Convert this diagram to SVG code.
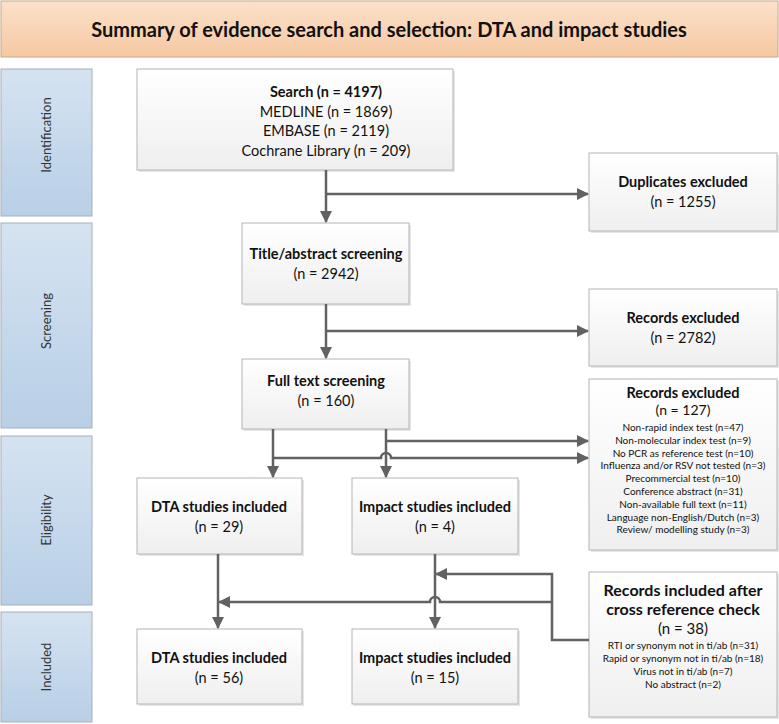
<svg xmlns="http://www.w3.org/2000/svg" width="779" height="724" viewBox="0 0 779 724">
<defs>
<linearGradient id="gTitle" x1="0" y1="0" x2="0" y2="1"><stop offset="0" stop-color="#fbe1ca"/><stop offset="1" stop-color="#f6c8a2"/></linearGradient>
<linearGradient id="gPhase" x1="0" y1="0" x2="0" y2="1"><stop offset="0" stop-color="#d5e3f1"/><stop offset="1" stop-color="#b8cfe6"/></linearGradient>
<linearGradient id="gBox" x1="0" y1="0" x2="0" y2="1"><stop offset="0" stop-color="#ffffff"/><stop offset="1" stop-color="#efefef"/></linearGradient>
<marker id="arr" markerUnits="userSpaceOnUse" markerWidth="12" markerHeight="12" refX="11" refY="6" orient="auto"><path d="M0,0 L12,6 L0,12 z" fill="#626262"/></marker>
</defs>
<style>
.phase{fill:url(#gPhase);stroke:#a8b0b8;stroke-width:1}
.box{fill:url(#gBox);stroke:#b4b4b4;stroke-width:1}
.sh{fill:#e6e6e6}
.t{font-family:Lato,"Liberation Sans",sans-serif;fill:#111;text-anchor:middle}
.b{font-weight:bold}
.m{font-size:14.5px}
.s{font-size:10px}
.p{font-family:Lato,"Liberation Sans",sans-serif;font-size:13px;fill:#333;text-anchor:middle}
.c{fill:none;stroke:#626262;stroke-width:2.5}
</style>
<rect x="0" y="0" width="779" height="724" fill="#ffffff"/>
<g id="title">
<rect x="1" y="1" width="777" height="56" fill="url(#gTitle)" stroke="#c8a888" stroke-width="1"/>
<text class="t b" x="389" y="37" font-size="20">Summary of evidence search and selection: DTA and impact studies</text>
</g>
<g id="phase-identification"><rect class="phase" x="1" y="69" width="91" height="147"/><text class="p" transform="translate(51,135) rotate(-90)">Identification</text></g>
<g id="phase-screening"><rect class="phase" x="1" y="223" width="91" height="205"/><text class="p" transform="translate(51,321) rotate(-90)">Screening</text></g>
<g id="phase-eligibility"><rect class="phase" x="1" y="436" width="91" height="169"/><text class="p" transform="translate(51,520) rotate(-90)">Eligibility</text></g>
<g id="phase-included"><rect class="phase" x="1" y="612" width="91" height="110"/><text class="p" transform="translate(51,667) rotate(-90)">Included</text></g>

<g id="search"><rect class="sh" x="139" y="71" width="316" height="101"/><rect class="box" x="137" y="69" width="316" height="101"/>
<text class="t m" x="326" y="97"><tspan class="b">Search (n = 4197)</tspan><tspan x="326" dy="19.5">MEDLINE (n = 1869)</tspan><tspan x="326" dy="19.5">EMBASE (n = 2119)</tspan><tspan x="326" dy="19.5">Cochrane Library (n = 209)</tspan></text></g>
<g id="duplicates"><rect class="sh" x="591" y="155" width="188" height="78"/><rect class="box" x="589" y="153" width="188" height="78"/>
<text class="t m" x="683" y="187"><tspan class="b">Duplicates excluded</tspan><tspan x="683" dy="20">(n = 1255)</tspan></text></g>
<g id="title-abstract"><rect class="sh" x="244" y="225" width="167" height="81"/><rect class="box" x="242" y="223" width="167" height="81"/>
<text class="t m" x="326" y="259"><tspan class="b">Title/abstract screening</tspan><tspan x="326" dy="20">(n = 2942)</tspan></text></g>
<g id="records-excluded-2782"><rect class="sh" x="591" y="291" width="188" height="77"/><rect class="box" x="589" y="289" width="188" height="77"/>
<text class="t m" x="683" y="323"><tspan class="b">Records excluded</tspan><tspan x="683" dy="20">(n = 2782)</tspan></text></g>
<g id="full-text"><rect class="sh" x="244" y="361" width="167" height="70"/><rect class="box" x="242" y="359" width="167" height="70"/>
<text class="t m" x="326" y="386"><tspan class="b">Full text screening</tspan><tspan x="326" dy="20">(n = 160)</tspan></text></g>
<g id="records-excluded-127"><rect class="sh" x="591" y="381" width="188" height="171"/><rect class="box" x="589" y="379" width="188" height="171"/>
<text class="t b" x="683" y="398" font-size="14.5">Records excluded</text>
<text class="t" x="683" y="415" font-size="14">(n = 127)</text>
<text class="t s" x="683" y="431"><tspan>Non-rapid index test (n=47)</tspan><tspan x="683" dy="12.8">Non-molecular index test (n=9)</tspan><tspan x="683" dy="12.8">No PCR as reference test (n=10)</tspan><tspan x="683" dy="12.8">Influenza and/or RSV not tested (n=3)</tspan><tspan x="683" dy="12.8">Precommercial test (n=10)</tspan><tspan x="683" dy="12.8">Conference abstract (n=31)</tspan><tspan x="683" dy="12.8">Non-available full text (n=11)</tspan><tspan x="683" dy="12.8">Language non-English/Dutch (n=3)</tspan><tspan x="683" dy="12.8">Review/ modelling study (n=3)</tspan></text></g>
<g id="dta-29"><rect class="sh" x="139" y="480" width="165" height="76"/><rect class="box" x="137" y="478" width="165" height="76"/>
<text class="t m" x="219" y="512"><tspan class="b">DTA studies included</tspan><tspan x="219" dy="20">(n = 29)</tspan></text></g>
<g id="impact-4"><rect class="sh" x="354" y="480" width="166" height="76"/><rect class="box" x="352" y="478" width="166" height="76"/>
<text class="t m" x="435" y="512"><tspan class="b">Impact studies included</tspan><tspan x="435" dy="20">(n = 4)</tspan></text></g>
<g id="cross-reference"><rect class="sh" x="591" y="574" width="188" height="145"/><rect class="box" x="589" y="572" width="188" height="145"/>
<text class="t b" x="683" y="596" font-size="16"><tspan>Records included after</tspan><tspan x="683" dy="19">cross reference check</tspan></text>
<text class="t" x="683" y="634" font-size="15">(n = 38)</text>
<text class="t s" x="683" y="649"><tspan>RTI or synonym not in ti/ab (n=31)</tspan><tspan x="683" dy="13">Rapid or synonym not in ti/ab (n=18)</tspan><tspan x="683" dy="13">Virus not in ti/ab (n=7)</tspan><tspan x="683" dy="13">No abstract (n=2)</tspan></text></g>
<g id="dta-56"><rect class="sh" x="139" y="631" width="165" height="75"/><rect class="box" x="137" y="629" width="165" height="75"/>
<text class="t m" x="219" y="663"><tspan class="b">DTA studies included</tspan><tspan x="219" dy="20">(n = 56)</tspan></text></g>
<g id="impact-15"><rect class="sh" x="354" y="631" width="166" height="75"/><rect class="box" x="352" y="629" width="166" height="75"/>
<text class="t m" x="435" y="663"><tspan class="b">Impact studies included</tspan><tspan x="435" dy="20">(n = 15)</tspan></text></g>

<g id="connectors" class="c">
<path d="M326,170 V222" marker-end="url(#arr)"/>
<path d="M326,194 H588" marker-end="url(#arr)"/>
<path d="M326,304 V358" marker-end="url(#arr)"/>
<path d="M326,331 H588" marker-end="url(#arr)"/>
<path d="M273,429 V477" marker-end="url(#arr)"/>
<path d="M386,429 V477" marker-end="url(#arr)"/>
<path d="M386,441 H588" marker-end="url(#arr)"/>
<path d="M273,458 H381 A5,5 0 0 1 391,458 H588" marker-end="url(#arr)"/>
<path d="M218,554 V628" marker-end="url(#arr)"/>
<path d="M435,554 V628" marker-end="url(#arr)"/>
<path d="M589,640 H552 V574 H436" marker-end="url(#arr)"/>
<path d="M552,602 H440 A5,5 0 0 0 430,602 H219" marker-end="url(#arr)"/>
</g>
</svg>
